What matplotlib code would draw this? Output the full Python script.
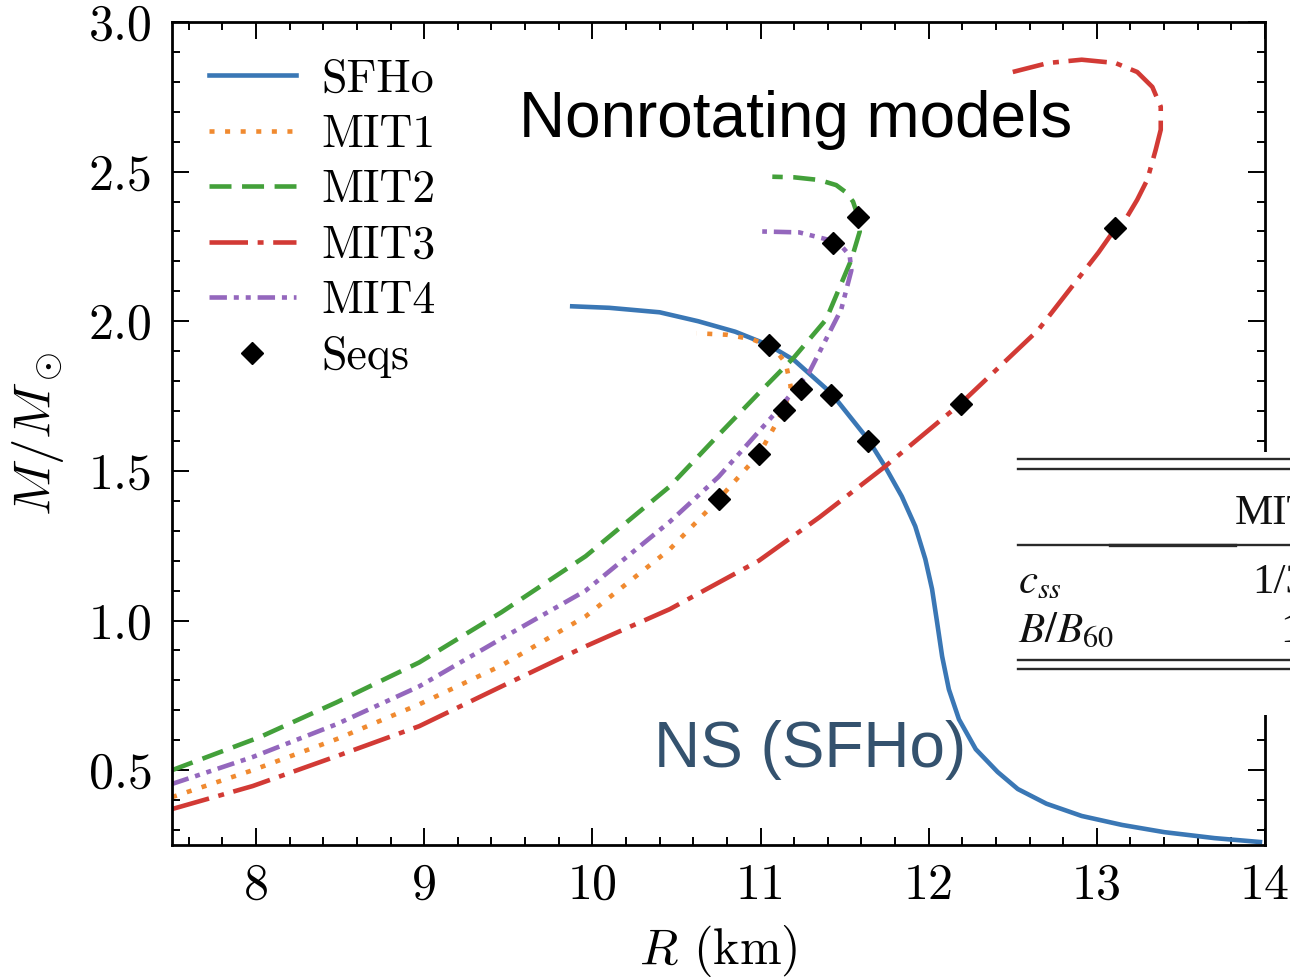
import matplotlib
matplotlib.use('Agg')
import matplotlib.pyplot as plt
from matplotlib.patches import Rectangle
from matplotlib.lines import Line2D
from matplotlib.ticker import MultipleLocator

plt.rcParams.update({
    'font.family': 'serif',
    'font.serif': ['cmr10', 'DejaVu Serif'],
    'mathtext.fontset': 'cm',
    'axes.formatter.use_mathtext': True,
    'axes.unicode_minus': False,
})

# ---------------- data ----------------
sfho_R = [9.88, 10.10, 10.40, 10.63, 10.85, 11.05, 11.20, 11.42, 11.64, 11.74, 11.84,
          11.92, 11.98, 12.02, 12.05, 12.08, 12.12, 12.18, 12.28, 12.41, 12.53, 12.70,
          12.91, 13.15, 13.40, 13.70, 13.97]
sfho_M = [2.050, 2.045, 2.030, 2.000, 1.965, 1.920, 1.870, 1.760, 1.605, 1.515, 1.415,
          1.315, 1.205, 1.105, 0.994, 0.880, 0.770, 0.670, 0.570, 0.494, 0.437, 0.388,
          0.347, 0.317, 0.293, 0.273, 0.260]

mit1_R = [7.50, 7.98, 8.48, 8.97, 9.46, 9.96, 10.46, 10.75, 10.99, 11.14, 11.18,
          11.15, 11.08, 10.95, 10.80, 10.62]
mit1_M = [0.410, 0.500, 0.604, 0.720, 0.850, 1.014, 1.238, 1.405, 1.555, 1.705, 1.780,
          1.860, 1.910, 1.940, 1.955, 1.960]

mit2_R = [7.50, 8.02, 8.48, 8.97, 9.46, 9.96, 10.46, 10.75, 10.99, 11.20, 11.39,
          11.54, 11.59, 11.58, 11.55, 11.51, 11.45, 11.35, 11.20, 11.07]
mit2_M = [0.500, 0.610, 0.727, 0.860, 1.028, 1.215, 1.448, 1.620, 1.760, 1.880, 2.006,
          2.206, 2.300, 2.350, 2.400, 2.430, 2.455, 2.472, 2.481, 2.483]

mit3_R = [7.50, 7.98, 8.48, 8.97, 9.46, 9.96, 10.46, 10.99, 11.35, 11.73, 12.19, 12.65,
          13.01, 13.11, 13.17, 13.24, 13.30, 13.35, 13.38, 13.38, 13.33, 13.24, 13.11,
          12.91, 12.71, 12.50]
mit3_M = [0.370, 0.447, 0.547, 0.647, 0.780, 0.914, 1.038, 1.200, 1.345, 1.510, 1.725, 1.970,
          2.230, 2.310, 2.340, 2.406, 2.473, 2.573, 2.640, 2.717, 2.783, 2.833, 2.863,
          2.874, 2.863, 2.833]

mit4_R = [7.50, 7.98, 8.48, 8.97, 9.46, 9.96, 10.46, 10.75, 11.09, 11.29, 11.48,
          11.54, 11.53, 11.48, 11.42, 11.23, 11.01]
mit4_M = [0.454, 0.544, 0.654, 0.780, 0.940, 1.100, 1.330, 1.480, 1.695, 1.830, 2.040,
          2.170, 2.220, 2.252, 2.270, 2.297, 2.300]

seq_R = [10.75, 10.99, 11.14, 11.24, 11.05, 11.42, 11.64, 11.58, 11.43, 12.19, 13.11]
seq_M = [1.405, 1.555, 1.705, 1.775, 1.920, 1.755, 1.600, 2.350, 2.260, 1.725, 2.310]

labels = ['SFHo', 'MIT1', 'MIT2', 'MIT3', 'MIT4', 'Seqs']
x_ticks = [8, 9, 10, 11, 12, 13, 14]
y_ticks = [0.5, 1.0, 1.5, 2.0, 2.5, 3.0]

# ---------------- figure ----------------
fig = plt.figure(figsize=(12.9, 9.77), dpi=100)
ax = fig.add_axes([172 / 1290, 1 - 845 / 977, (1265 - 172) / 1290, (845 - 22) / 977])

lw = 3.3
c_blue, c_orange, c_green, c_red, c_purple = '#3a77b5', '#f08a30', '#43a03a', '#d23a35', '#9467bd'

kw = dict(lw=lw, solid_joinstyle='round', dash_joinstyle='round')
ax.plot(sfho_R, sfho_M, color=c_blue, label=labels[0], **kw)
ax.plot(mit1_R, mit1_M, color=c_orange, dashes=(1.1, 2.3), label=labels[1], **kw)
ax.plot(mit2_R, mit2_M, color=c_green, dashes=(4.8, 2.3), label=labels[2], **kw)
ax.plot(mit3_R, mit3_M, color=c_red, dashes=(8.4, 2.1, 1.3, 2.1), label=labels[3], **kw)
ax.plot(mit4_R, mit4_M, color=c_purple, dashes=(3.8, 1.5, 1.1, 1.5, 1.1, 1.5), label=labels[4], **kw)
ax.plot(seq_R, seq_M, ls='none', marker='D', ms=11.5, color='black', mew=1, label=labels[5], zorder=5)

ax.set_xlim(7.5, 14)
ax.set_ylim(0.25, 3.0)
ax.set_xticks(x_ticks)
ax.set_yticks(y_ticks)
ax.set_xticklabels([str(v) for v in x_ticks])
ax.set_yticklabels([f'{v:.1f}' for v in y_ticks])
ax.xaxis.set_minor_locator(MultipleLocator(0.2))
ax.yaxis.set_minor_locator(MultipleLocator(0.1))
ax.tick_params(which='both', direction='in', top=True, right=True, width=1.4, labelsize=36)
ax.tick_params(which='major', length=12)
ax.tick_params(which='minor', length=6)
ax.tick_params(axis='x', which='major', pad=13)
ax.tick_params(axis='y', which='major', pad=14)
for s in ax.spines.values():
    s.set_linewidth(2.0)

ax.set_xlabel(r'$R$ (km)', fontsize=36, labelpad=10)
ax.set_ylabel(r'$M/M_\odot$', fontsize=38, labelpad=16)

ax.legend(loc='upper left', frameon=False, fontsize=33, handlelength=1.9,
          handletextpad=0.55, labelspacing=0.3, borderaxespad=0.4, numpoints=1)

ax.text(9.565, 2.617, 'Nonrotating models', fontsize=46, family='Liberation Sans',
        color='black', ha='left', va='baseline')
ax.text(10.366, 0.51, 'NS (SFHo)', fontsize=46, family='Liberation Sans',
        color='#34526e', ha='left', va='baseline')

# ---------------- overlaid table fragment ----------------
W, H = 1290.0, 977.0
def fx(p):
    return p / W
def fy(p):
    return 1 - p / H

fig.patches.append(Rectangle((fx(1018), fy(715)), 1 - fx(1018), fy(452) - fy(715),
                             transform=fig.transFigure, facecolor='white',
                             edgecolor='none', zorder=10))
for yy in [459, 469, 545, 660, 669]:
    fig.lines.append(Line2D([fx(1018), 1.0], [fy(yy), fy(yy)], transform=fig.transFigure,
                            color='#2a2a2a', lw=1.7, zorder=11))
fig.lines.append(Line2D([fx(1110), fx(1235)], [fy(545), fy(545)], transform=fig.transFigure,
                        color='#2a2a2a', lw=2.4, zorder=11))
tkw = dict(transform=fig.transFigure, family='Liberation Serif', fontsize=31,
           math_fontfamily='stix', color='#111111', zorder=12, va='baseline', ha='left')
fig.text(fx(1235), fy(524), 'MIT', **tkw)
fig.text(fx(1018), fy(593), r'$c_{ss}$', **tkw)
fig.text(fx(1252), fy(593), '1/3', **tkw)
fig.text(fx(1018), fy(642), r'$B/B_{\mathrm{60}}$', **tkw)
fig.text(fx(1280), fy(642), '1', **tkw)

fig.savefig('out.png', dpi=100)
